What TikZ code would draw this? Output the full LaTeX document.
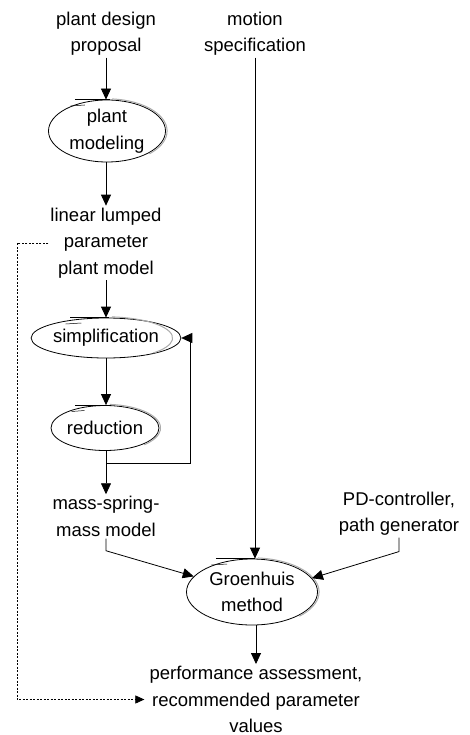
\documentclass[tikz,border=0pt]{standalone}
\usepackage{fontspec}
\setmainfont{Liberation Sans}
\usetikzlibrary{arrows.meta,shapes.geometric,calc}

% hand-drawn look for an elliptic process node: doubled grey stroke on the
% upper right and a short overshoot of the top line
\newcommand\handring[3]{%
  \draw[gray!65, line width=1pt, shift={(#1.center)}]
    (85:{#2+1.6} and {#3+1.2}) arc[start angle=85, end angle=-45, x radius=#2+1.6, y radius=#3+1.2];
  \draw[line width=0.7pt, shift={(#1.center)}]
    ({-0.55*#2}, {#3+0.6}) -- ({0.05*#2}, {#3+0.6});
  \draw[line width=0.5pt, shift={(#1.center)}]
    ({-0.62*#2}, {#3-6}) -- ({-0.38*#2}, {#3-5});
}

\begin{document}
\begin{tikzpicture}[x=1pt, y=1pt,
  every node/.style={font=\fontsize{18.5}{26.5}\selectfont, align=center, inner sep=2pt},
  label/.style={},
  proc/.style={ellipse, draw, line width=0.8pt, inner sep=0pt},
  arr/.style={line width=0.8pt, -{Triangle[length=11pt, width=10pt]}},
  link/.style={line width=0.8pt},
  dotlink/.style={line width=0.7pt, dash pattern=on 2pt off 1.5pt, -{Triangle[length=9pt, width=8pt]}}]

\useasboundingbox (0,0) rectangle (470,-735);
\fill[white] (0,0) rectangle (470,-735);

% sources and results
\node[label] (pdp)  at (106,-33.5) {plant design\\proposal};
\node[label] (ms)   at (255,-33.5) {motion\\specification};
\node[label] (llp)  at (106,-243)  {linear lumped\\parameter\\plant model};
\node[label] (msm)  at (106,-516.5){mass-spring-\\mass model};
\node[label] (pd)   at (399,-513.5){PD-controller,\\path generator};
\node[label] (perf) at (256,-699.5){performance assessment,\\recommended parameter\\values};

% processes
\node[proc, minimum width=117, minimum height=62] (plm)  at (107,-131) {plant\\modeling};
\node[proc, minimum width=130, minimum height=40] (simp) at (106,-338) {simplification};
\node[proc, minimum width=108, minimum height=45] (red)  at (105,-428) {reduction};
\node[proc, minimum width=131, minimum height=66] (gro)  at (252,-592) {Groenhuis\\method};

\handring{plm}{58.5}{31}
\handring{simp}{65}{20}
\handring{red}{54}{22.5}
\handring{gro}{65.5}{33}

% main flow
\draw[arr] (pdp.south) -- (pdp.south |- plm.north);
\draw[arr] (plm.south -| pdp.south) -- (llp.north);
\draw[arr] (llp.south) -- (llp.south |- simp.north);
\draw[arr] (simp.south) -- (simp.south |- red.north);
\draw[arr] (red.south -| msm.north) -- (msm.north);

% iterate simplification / reduction
\coordinate (br) at (106,-463);
\coordinate (fb) at (190,-463);
\draw[arr] (br) -- (fb) |- (simp.east);

% inputs of the Groenhuis method
\draw[arr] (msm.south) -- ++(0,-12) -- (gro.165);
\draw[arr] (ms.south) -- (ms.south |- gro.north);
\draw[arr] (pd.south) -- ++(0,-14) -- (gro.13);
\draw[arr] (gro.south -| perf.north) -- (perf.north);

% direct route of the plant model to the results
\draw[dotlink] (llp.west) -- (17,-243 |- llp.west) |- ([xshift=-3pt]perf.west);

\end{tikzpicture}
\end{document}
